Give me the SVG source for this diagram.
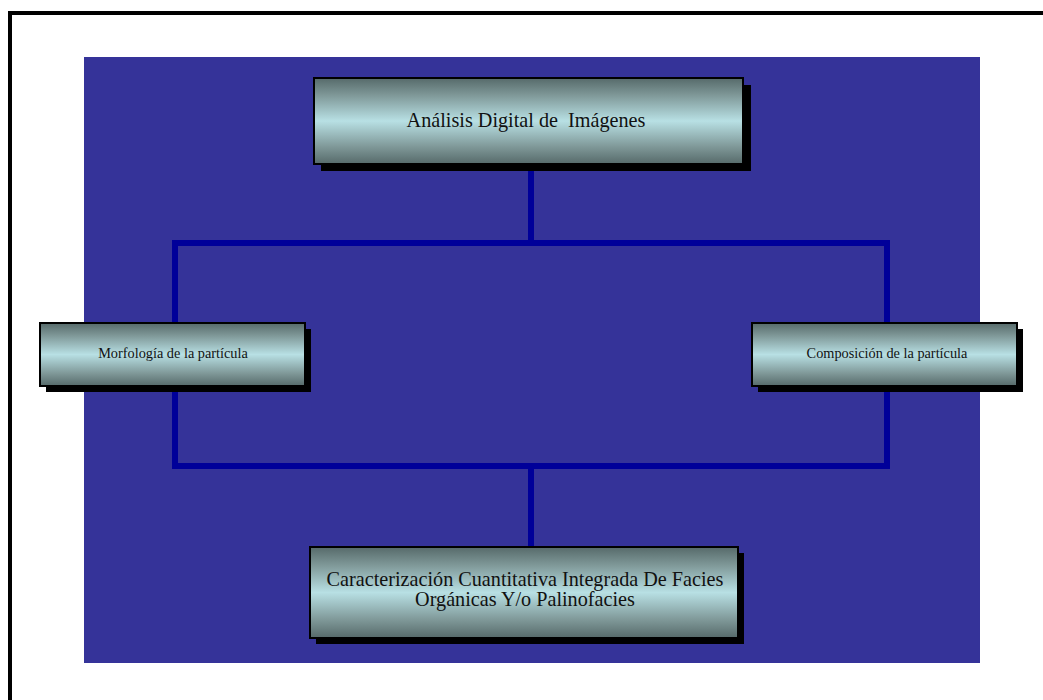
<svg xmlns="http://www.w3.org/2000/svg" width="1043" height="700" viewBox="0 0 1043 700">
<defs>
<linearGradient id="g" x1="0" y1="0" x2="0" y2="1">
<stop offset="0" stop-color="#566a6a"/>
<stop offset="0.2" stop-color="#7f9898"/>
<stop offset="0.5" stop-color="#b8e0e4"/>
<stop offset="0.8" stop-color="#7f9898"/>
<stop offset="1" stop-color="#566a6a"/>
</linearGradient>
<style>
.box{fill:url(#g);stroke:#000;stroke-width:2}
.sh{fill:#000}
.c{fill:none;stroke:#000099;stroke-width:6;stroke-linejoin:miter}
text{font-family:"Liberation Serif","Times New Roman",serif;fill:#111;text-anchor:middle}
.big{font-size:20.2px}
.sm{font-size:14.3px}
</style>
</defs>
<rect x="0" y="0" width="1043" height="700" fill="#fff"/>
<rect x="10" y="13" width="1100" height="800" fill="none" stroke="#000" stroke-width="4"/>
<rect x="84" y="57" width="896" height="606" fill="#353399"/>
<g id="connectors">
<path class="c" d="M531 160 V243 M175 323 V243 H887 V323"/>
<path class="c" d="M175 385 V466 H887 V385 M531 466 V547"/>
</g>
<g id="n1">
<rect class="sh" x="321" y="85" width="430" height="86"/>
<rect class="box" x="314" y="78" width="429" height="86"/>
<text class="big" x="526" y="127" xml:space="preserve">Análisis Digital de  Imágenes</text>
</g>
<g id="n2">
<rect class="sh" x="46" y="329" width="265" height="63"/>
<rect class="box" x="40" y="323" width="265" height="63"/>
<text class="sm" x="173" y="358">Morfología de la partícula</text>
</g>
<g id="n3">
<rect class="sh" x="758" y="329" width="265" height="63"/>
<rect class="box" x="752" y="323" width="265" height="63"/>
<text class="sm" x="887" y="358">Composición de la partícula</text>
</g>
<g id="n4">
<rect class="sh" x="316" y="553" width="428" height="91"/>
<rect class="box" x="310" y="547" width="428" height="91"/>
<text class="big" x="525" y="586">Caracterización Cuantitativa Integrada De Facies</text>
<text class="big" x="525" y="606">Orgánicas Y/o Palinofacies</text>
</g>
</svg>
